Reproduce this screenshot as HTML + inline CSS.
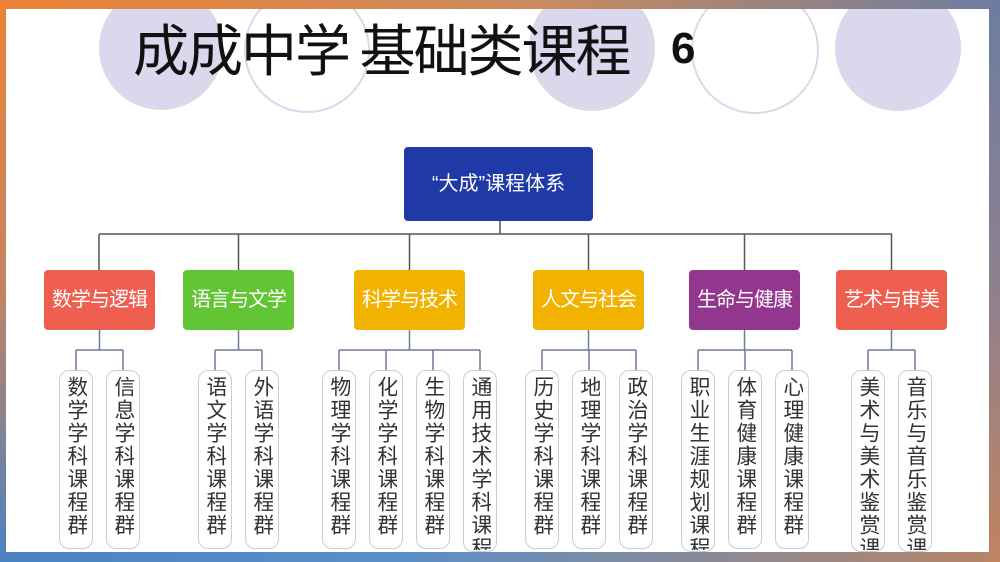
<!DOCTYPE html>
<html><head><meta charset="utf-8"><style>
*{margin:0;padding:0;box-sizing:border-box}
body{width:1000px;height:562px;overflow:hidden;position:relative;background:#fff;font-family:"Liberation Sans","Noto Sans CJK SC",sans-serif}
.s{position:absolute}
.cat{position:absolute;top:270px;width:111px;height:60px;border-radius:4px;color:#fff;font-size:20px;text-align:center;line-height:60px;letter-spacing:-1px}
.pill{position:absolute;top:370px;width:34px;height:182px;border:1.5px solid #c5cfe0;border-radius:10px;background:#fff;overflow:hidden}
.pill span{position:absolute;left:5px;top:5px;height:174px;overflow:hidden;writing-mode:vertical-rl;font-size:21px;letter-spacing:2px;color:#333;line-height:22px;white-space:nowrap}
</style></head><body>
<svg class="s" style="left:0;top:0" width="1000" height="562">
<g fill="#d9d8ec"><circle cx="161" cy="48" r="62"/><circle cx="592" cy="48" r="63"/><circle cx="898" cy="48" r="63"/></g>
<g fill="none" stroke="#d9d8ec" stroke-width="2"><circle cx="307" cy="50" r="62"/><circle cx="755" cy="50" r="63"/></g>
<g stroke="#555" stroke-width="1.5" fill="none">
<path d="M500 221V234M99 234H892M99 234V270M238.5 234V270M409.5 234V270M588.5 234V270M744.5 234V270M891.5 234V270"/>
</g>
<g stroke="#6c7a98" stroke-width="1.5" fill="none">
<path d="M99.5 330V350M76 350H123M76 350V370M123 350V370"/>
<path d="M238.5 330V350M215 350H262M215 350V370M262 350V370"/>
<path d="M409.5 330V350M339 350H480M339 350V370M386 350V370M433 350V370M480 350V370"/>
<path d="M588.5 330V350M542 350H636M542 350V370M589 350V370M636 350V370"/>
<path d="M744.5 330V350M698 350H792M698 350V370M745 350V370M792 350V370"/>
<path d="M891.5 330V350M868 350H915M868 350V370M915 350V370"/>
</g>
</svg>
<div class="s" style="left:133px;top:12px;font-size:56px;color:#111;font-family:'WenQuanYi Zen Hei','Noto Sans CJK SC',sans-serif;font-weight:400;letter-spacing:-2px;white-space:nowrap;line-height:72px">成成中学 基础类课程</div>
<div class="s" style="left:671px;top:24px;font-size:44px;font-weight:bold;color:#111;line-height:50px">6</div>
<div class="s" style="left:404px;top:147px;width:189px;height:74px;background:#1f3aa6;border-radius:4px;color:#fff;font-size:20px;text-align:center;line-height:74px">“大成”课程体系</div>
<div class="cat" style="left:44px;background:#ee5f50">数学与逻辑</div>
<div class="cat" style="left:183px;background:#62c634">语言与文学</div>
<div class="cat" style="left:354px;background:#f2b200">科学与技术</div>
<div class="cat" style="left:533px;background:#f2b200">人文与社会</div>
<div class="cat" style="left:689px;background:#93378e">生命与健康</div>
<div class="cat" style="left:836px;background:#ee5f50">艺术与审美</div>
<div class="pill" style="left:59px;height:179px"><span>数学学科课程群</span></div>
<div class="pill" style="left:106px;height:179px"><span>信息学科课程群</span></div>
<div class="pill" style="left:198px;height:179px"><span>语文学科课程群</span></div>
<div class="pill" style="left:245px;height:179px"><span>外语学科课程群</span></div>
<div class="pill" style="left:322px;height:179px"><span>物理学科课程群</span></div>
<div class="pill" style="left:369px;height:179px"><span>化学学科课程群</span></div>
<div class="pill" style="left:416px;height:179px"><span>生物学科课程群</span></div>
<div class="pill" style="left:463px"><span>通用技术学科课程群</span></div>
<div class="pill" style="left:525px;height:179px"><span>历史学科课程群</span></div>
<div class="pill" style="left:572px;height:179px"><span>地理学科课程群</span></div>
<div class="pill" style="left:619px;height:179px"><span>政治学科课程群</span></div>
<div class="pill" style="left:681px"><span>职业生涯规划课程群</span></div>
<div class="pill" style="left:728px;height:179px"><span>体育健康课程群</span></div>
<div class="pill" style="left:775px;height:179px"><span>心理健康课程群</span></div>
<div class="pill" style="left:851px"><span>美术与美术鉴赏课程群</span></div>
<div class="pill" style="left:898px"><span>音乐与音乐鉴赏课程群</span></div>
<div class="s" style="left:0;top:0;width:1000px;height:9px;background:linear-gradient(to right,#ec8236,#c98a5e 55%,#6c7da0)"></div>
<div class="s" style="left:0;top:552px;width:1000px;height:10px;background:linear-gradient(to right,#4a82c2,#5a8fc8 40%,#b88466)"></div>
<div class="s" style="left:0;top:0;width:6px;height:562px;background:linear-gradient(to bottom,#ec8236,#c58460 50%,#4a82c2)"></div>
<div class="s" style="left:989px;top:0;width:11px;height:562px;background:linear-gradient(to bottom,#6c7da0,#8e8090 50%,#c08360)"></div>
</body></html>
